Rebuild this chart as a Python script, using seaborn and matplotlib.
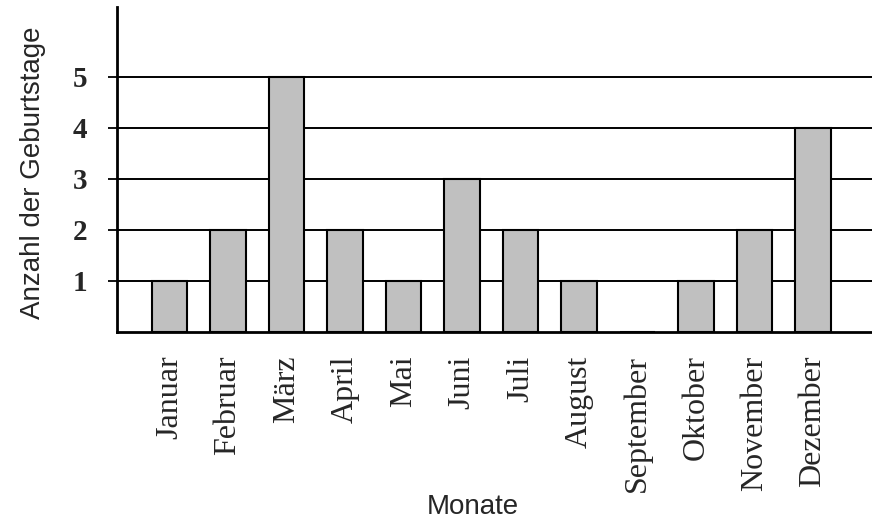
import matplotlib
matplotlib.use("Agg")
import matplotlib.pyplot as plt
import seaborn as sns

# Daten
monate = ["Januar", "Februar", "März", "April", "Mai", "Juni",
          "Juli", "August", "September", "Oktober", "November", "Dezember"]
anzahl = [1, 2, 5, 2, 1, 3, 2, 1, 0, 1, 2, 4]
y_ticks = [1, 2, 3, 4, 5]

sns.set_style("ticks")
plt.rcParams['font.family'] = ['Liberation Serif', 'DejaVu Serif']

fig = plt.figure(figsize=(8.72, 5.22), dpi=100)
ax = fig.add_axes([117 / 872, 1 - 332 / 522, 755 / 872, 325 / 522])

sns.barplot(x=monate, y=anzahl, color="#c0c0c0", saturation=1,
            edgecolor="black", linewidth=1.5, width=0.61, ax=ax, zorder=3)

ax.set_xlim(-0.897, 12.01)
ax.set_ylim(0, 6.37)
ax.set_yticks(y_ticks)
ax.set_yticklabels([str(t) for t in y_ticks], fontsize=21, fontweight="bold")
ax.tick_params(axis="y", length=6.5, width=1.3, pad=15, color="black")
ax.tick_params(axis="x", length=0, pad=17, labelsize=23, labelrotation=90)

ax.yaxis.grid(True, color="black", linewidth=1.4)
ax.set_axisbelow(True)

for s in ["top", "right"]:
    ax.spines[s].set_visible(False)
for s in ["left", "bottom"]:
    ax.spines[s].set_linewidth(2)
    ax.spines[s].set_color("black")

ax.set_ylabel("Anzahl der Geburtstage", family=["Liberation Sans", "DejaVu Sans"], fontsize=20)
ax.yaxis.set_label_coords(-0.094, 0.49)
ax.set_xlabel("Monate", family=["Liberation Sans", "DejaVu Sans"], fontsize=20)
ax.xaxis.set_label_coords(0.4715, -0.50)

fig.savefig("out.png", dpi=100)
